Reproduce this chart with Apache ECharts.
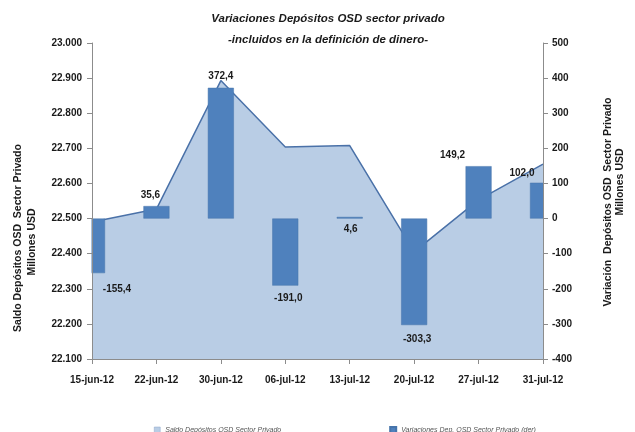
<!DOCTYPE html>
<html>
<head>
<meta charset="utf-8">
<script src="https://cdn.jsdelivr.net/npm/echarts@6/dist/echarts.min.js"></script>
<style>
  html, body { margin: 0; padding: 0; background: #fff; }
  #chart { width: 635px; height: 432px; }
</style>
</head>
<body>
<div id="chart"></div>
<script>
// datos
const fechas = ['15-jun-12', '22-jun-12', '30-jun-12', '06-jul-12', '13-jul-12', '20-jul-12', '27-jul-12', '31-jul-12']
const saldo = [22490, 22527, 22893, 22704, 22708, 22405, 22553, 22655]
const variacion = [-155.4, 35.6, 372.4, -191.0, 4.6, -303.3, 149.2, 102.0]

const nombreSaldo = 'Saldo Depósitos OSD Sector Privado'
const nombreVar = 'Variaciones Dep. OSD Sector Privado (der)'

const fmtMiles = v => Math.floor(v / 1000) + '.' + String(v % 1000).padStart(3, '0')
const fmtComa = v => v.toFixed(1).replace('.', ',')

// ajuste manual de etiquetas (como en el original de Excel)
const labelAjuste = [
  { pos: 'bottom', dx: 25, dist: 11 },
  { pos: 'top', dx: -6, dist: 6 },
  { pos: 'top', dx: 0, dist: 7 },
  { pos: 'bottom', dx: 3, dist: 8 },
  { pos: 'bottom', dx: 1, dist: 6 },
  { pos: 'bottom', dx: 3, dist: 9 },
  { pos: 'top', dx: -26, dist: 6 },
  { pos: 'top', dx: -21, dist: 4 }
]

const barData = variacion.map((v, i) => ({
  value: v,
  label: {
    position: labelAjuste[i].pos,
    distance: labelAjuste[i].dist,
    offset: [labelAjuste[i].dx, 0]
  }
}))

const chart = echarts.init(document.getElementById('chart'))

const fuente = '"Liberation Sans", Arial, sans-serif'
const axisGris = { lineStyle: { color: '#8c8c8c', width: 1 } }
const tickFont = { color: '#1a1a1a', fontSize: 10, fontWeight: 'bold', fontFamily: fuente }

// texto vertical de los titulos de eje
const tituloEje = (txt, x, y) => ({
  type: 'text',
  x: x,
  y: y,
  rotation: Math.PI / 2,
  z: 10,
  style: {
    text: txt,
    align: 'center',
    verticalAlign: 'middle',
    fill: '#1a1a1a',
    font: 'bold 10.5px ' + fuente
  }
})

// tapa la mitad de las barras de los extremos (Excel las corta en el borde)
const tapa = (x, w) => ({
  type: 'rect',
  z: 5,
  shape: { x: x, y: 40, width: w, height: 320 },
  style: { fill: '#fff' }
})

chart.setOption({
  animation: false,
  backgroundColor: '#fff',
  title: {
    text: 'Variaciones Depósitos OSD sector privado\n-incluidos en la definición de dinero-',
    left: 323,
    textAlign: 'center',
    top: 3,
    textStyle: {
      fontSize: 11.5,
      fontWeight: 'bold',
      fontStyle: 'italic',
      color: '#1a1a1a',
      lineHeight: 21,
      fontFamily: fuente
    }
  },
  legend: {
    left: 149,
    top: 421,
    itemWidth: 6,
    itemHeight: 6,
    itemGap: 108,
    textStyle: { fontSize: 7, fontStyle: 'italic', color: '#555', fontFamily: fuente },
    data: [
      { name: nombreSaldo, icon: 'rect', itemStyle: { color: '#b9cde5', borderColor: '#8ea6c8', borderWidth: 0.5 } },
      { name: nombreVar, icon: 'rect', itemStyle: { color: '#4f81bd' } }
    ]
  },
  grid: { left: 92, right: 92, top: 43, bottom: 73 },
  xAxis: {
    type: 'category',
    data: fechas,
    boundaryGap: false,
    z: 10,
    axisLine: Object.assign({ onZero: false }, axisGris),
    axisTick: { show: true, length: 5, alignWithLabel: true, lineStyle: { color: '#8c8c8c' } },
    axisLabel: Object.assign({ margin: 16, interval: 0 }, tickFont),
    splitLine: { show: false }
  },
  yAxis: [
    {
      type: 'value',
      min: 22100,
      max: 23000,
      interval: 100,
      z: 10,
      axisLine: Object.assign({ show: true }, axisGris),
      axisTick: { show: true, length: 5, lineStyle: { color: '#8c8c8c' } },
      axisLabel: Object.assign({ margin: 10, formatter: fmtMiles }, tickFont),
      splitLine: { show: false }
    },
    {
      type: 'value',
      min: -400,
      max: 500,
      interval: 100,
      position: 'right',
      z: 10,
      axisLine: Object.assign({ show: true }, axisGris),
      axisTick: { show: true, length: 5, lineStyle: { color: '#8c8c8c' } },
      axisLabel: Object.assign({ margin: 9 }, tickFont),
      splitLine: { show: false }
    }
  ],
  series: [
    {
      name: nombreSaldo,
      type: 'line',
      yAxisIndex: 0,
      data: saldo,
      symbol: 'none',
      lineStyle: { color: '#4a71a8', width: 1.5 },
      areaStyle: { color: '#b9cde5', opacity: 1, origin: 'start' },
      z: 2
    },
    {
      name: nombreVar,
      type: 'bar',
      yAxisIndex: 1,
      data: barData,
      barWidth: 26,
      itemStyle: { color: '#4f81bd', borderColor: '#4674ab', borderWidth: 0.5 },
      label: {
        show: true,
        formatter: p => fmtComa(p.value),
        color: '#1a1a1a',
        fontSize: 10,
        fontWeight: 'bold',
        fontFamily: fuente
      },
      z: 3
    }
  ],
  graphic: [
    tapa(76, 15.5),
    tapa(543.5, 15),
    tituloEje('Saldo Depósitos OSD  Sector Privado', 18, 238),
    tituloEje('Millones USD', 32, 242),
    tituloEje('Variación  Depósitos OSD  Sector Privado', 608, 202),
    tituloEje('Millones USD', 620, 182)
  ]
})
</script>
</body>
</html>
